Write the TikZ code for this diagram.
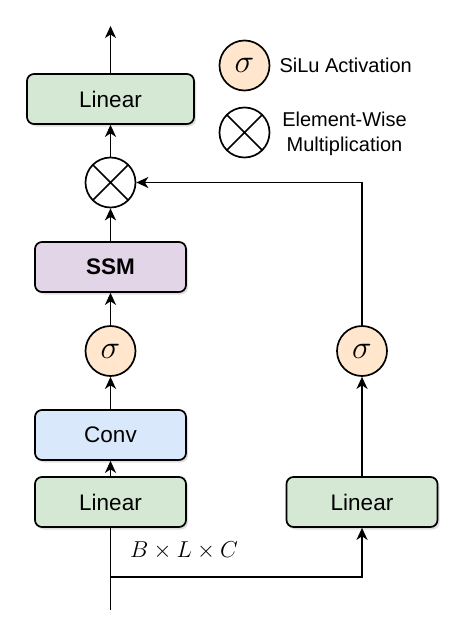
\RequirePackage{fix-cm}
\documentclass[tikz,border=0pt]{standalone}
\usepackage{fontspec}
\setmainfont{Liberation Sans}
\usetikzlibrary{arrows.meta,shadows}
\definecolor{lingreen}{HTML}{D5E8D4}
\definecolor{ssmpurple}{HTML}{E1D5E7}
\definecolor{convblue}{HTML}{DAE8FC}
\definecolor{actorange}{HTML}{FFE6CC}
\begin{document}
\begin{tikzpicture}[x=1pt,y=-1pt,
  block/.style={draw, line width=1.7pt, rounded corners=7pt, minimum width=151pt, minimum height=50pt,
    font=\fontsize{22.5}{26}\selectfont, drop shadow={shadow xshift=2pt,shadow yshift=-2.5pt,opacity=0.25}},
  act/.style={draw, circle, line width=1.7pt, fill=actorange, minimum size=50pt, inner sep=0pt,
    font=\fontsize{33}{33}\selectfont},
  mult/.style={draw, circle, line width=1.7pt, minimum size=50pt, inner sep=0pt,
    path picture={\draw[line width=1.7pt] (path picture bounding box.north west) -- (path picture bounding box.south east)
      (path picture bounding box.north east) -- (path picture bounding box.south west);}},
  flow/.style={line width=1.7pt, -{Stealth[length=12pt,width=11pt,inset=3.5pt]}},
  legend/.style={font=\fontsize{20}{25}\selectfont, align=center}]
\useasboundingbox (0,0) rectangle (457,626);
% left column
\node[block, fill=lingreen, minimum width=167pt] (linT) at (110.5,99) {Linear};
\node[mult] (mul) at (110.5,182.5) {};
\node[block, fill=ssmpurple, font=\fontsize{22.5}{26}\selectfont\bfseries] (ssm) at (110.5,267) {SSM};
\node[act] (actL) at (110.5,351) {$\sigma$};
\node[block, fill=convblue] (conv) at (110.5,435) {Conv};
\node[block, fill=lingreen] (linL) at (110.5,502) {Linear};
% right column
\node[act] (actR) at (362,351) {$\sigma$};
\node[block, fill=lingreen] (linR) at (362,502) {Linear};
% legend
\node[act] (legAct) at (244.5,65.5) {$\sigma$};
\node[legend, anchor=west] (legActTxt) at (276,65.5) {SiLu Activation};
\node[mult] (legMul) at (244.5,132.5) {};
\node[legend] (legMulTxt) at (344.5,133.5) {Element-Wise\\Multiplication};
\node[font=\fontsize{23}{23}\selectfont] (dims) at (184,551) {$B\times L\times C$};
% connectors
\coordinate (out) at (110.5,26);
\coordinate (in) at (110.5,610);
\coordinate (split) at (110.5,577);
\draw[flow] (linT) -- (out);
\draw[flow] (mul) -- (linT);
\draw[flow] (ssm) -- (mul);
\draw[flow] (actL) -- (ssm);
\draw[flow] (conv) -- (actL);
\draw[flow] (linL) -- (conv);
\draw[line width=1.7pt] (in) -- (linL);
\draw[flow] (split) -| (linR);
\draw[flow] (linR) -- (actR);
\draw[flow] (actR) |- (mul);
\end{tikzpicture}
\end{document}
